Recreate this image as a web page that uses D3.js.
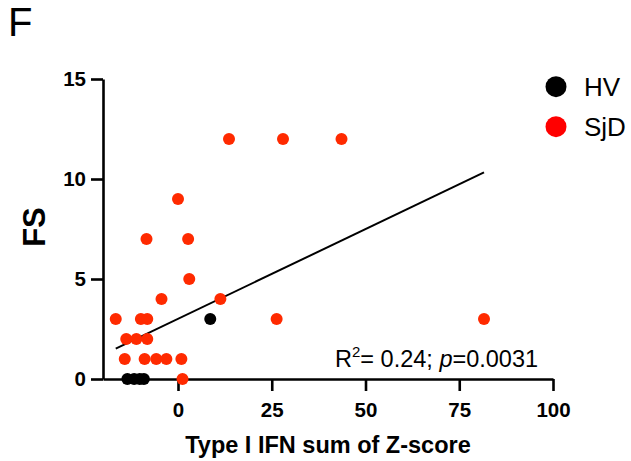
<!DOCTYPE html>
<html>
<head>
<meta charset="utf-8">
<script src="https://cdn.jsdelivr.net/npm/d3@7"></script>
<style>
  html, body { margin: 0; padding: 0; background: #fff; }
  svg { display: block; font-family: "Liberation Sans", Arial, sans-serif; }
</style>
</head>
<body>
<svg id="chart" width="631" height="461"></svg>
<script>
// Healthy volunteers (HV): Type I IFN score vs FS
const hvScore = [8.6, -13.5, -11.7, -10.2, -9.1];
const hvFS    = [3,   0,     0,     0,     0];

// Sjögren's disease (SjD) patients
const sjdScore = [13.6, 28, 43.6, 0, -8.4, 2.7, 3, -4.4, 11.3,
                  -16.6, -9.9, -8.2, 26.3, 81.6,
                  -13.8, -11.1, -8.2,
                  -14.2, -8.9, -5.8, -3.1, 0.9,
                  1.2];
const sjdFS    = [12, 12, 12, 9, 7, 7, 5, 4, 4,
                  3, 3, 3, 3, 3,
                  2, 2, 2,
                  1, 1, 1, 1, 1,
                  0];

// Linear fit over the SjD group
const fitIntercept = 3.01;
const fitSlope = 0.0897;

const xTicks = [0, 25, 50, 75, 100];
const yTicks = [0, 5, 10, 15];
const legendLabels = ["HV", "SjD"];
const legendColors = ["#000000", "#ff0000"];
const pointColors = { HV: "#000000", SjD: "#ff2a00" };

const svg = d3.select("#chart");

const x = d3.scaleLinear().domain([-20, 100]).range([103, 553]);
const y = d3.scaleLinear().domain([0, 15]).range([379, 79]);

// Panel letter
svg.append("text")
  .attr("x", 8).attr("y", 36.3)
  .attr("font-size", 40)
  .attr("fill", "#000")
  .text("F");

// Fit line (drawn beneath the points)
const fitX = d3.extent(sjdScore);
svg.append("line")
  .attr("x1", x(fitX[0])).attr("y1", y(fitIntercept + fitSlope * fitX[0]))
  .attr("x2", x(fitX[1])).attr("y2", y(fitIntercept + fitSlope * fitX[1]))
  .attr("stroke", "#000").attr("stroke-width", 2);

// Axes
const xAxis = svg.append("g")
  .attr("transform", `translate(0,${y(0)})`)
  .call(d3.axisBottom(x).tickValues(xTicks).tickSize(12).tickSizeOuter(0).tickPadding(11));
const yAxis = svg.append("g")
  .attr("transform", `translate(${x(-20)},0)`)
  .call(d3.axisLeft(y).tickValues(yTicks).tickSize(12).tickSizeOuter(0).tickPadding(5));

[xAxis, yAxis].forEach(g => {
  g.select(".domain").attr("stroke", "#000").attr("stroke-width", 2.6);
  g.selectAll(".tick line").attr("stroke", "#000").attr("stroke-width", 2.6);
  g.selectAll(".tick text")
    .attr("fill", "#000")
    .attr("font-size", 20.5)
    .attr("font-weight", "bold")
    .attr("font-family", "'Liberation Sans', Arial, sans-serif");
});

// Points
const hv = hvScore.map((s, i) => ({ s, f: hvFS[i] }));
const sjd = sjdScore.map((s, i) => ({ s, f: sjdFS[i] }));

svg.append("g").selectAll("circle").data(sjd).join("circle")
  .attr("cx", d => x(d.s)).attr("cy", d => y(d.f)).attr("r", 6)
  .attr("fill", pointColors.SjD);
svg.append("g").selectAll("circle").data(hv).join("circle")
  .attr("cx", d => x(d.s)).attr("cy", d => y(d.f)).attr("r", 6)
  .attr("fill", pointColors.HV);

// Axis titles
svg.append("text")
  .attr("x", 328).attr("y", 452.5)
  .attr("text-anchor", "middle")
  .attr("font-size", 23.5).attr("font-weight", "bold")
  .text("Type I IFN sum of Z-score");

svg.append("text")
  .attr("transform", "translate(45,227) rotate(-90)")
  .attr("text-anchor", "middle")
  .attr("font-size", 31).attr("font-weight", "bold")
  .text("FS");

// Fit statistics
const stat = svg.append("text")
  .attr("x", 335).attr("y", 366.5)
  .attr("font-size", 23.5);
stat.append("tspan").text("R");
stat.append("tspan").attr("font-size", 15).attr("dy", -9.5).text("2");
stat.append("tspan").attr("dy", 9.5).text("= 0.24; ");
stat.append("tspan").attr("font-style", "italic").text("p");
stat.append("tspan").text("=0.0031");

// Legend
const legend = svg.append("g");
legendLabels.forEach((lab, i) => {
  legend.append("circle")
    .attr("cx", 556).attr("cy", 86.7 + i * 40).attr("r", 10.5)
    .attr("fill", legendColors[i]);
  legend.append("text")
    .attr("x", 584).attr("y", 96 + i * 40)
    .attr("font-size", 26)
    .text(lab);
});
</script>
</body>
</html>
